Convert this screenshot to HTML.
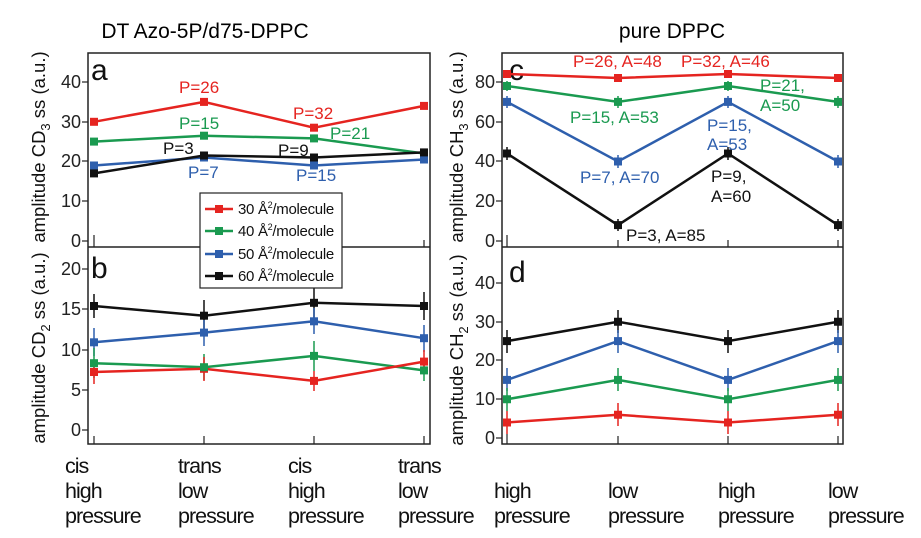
<!DOCTYPE html>
<html><head><meta charset="utf-8"><style>
body{margin:0;background:#fff}
svg{display:block;font-family:"Liberation Sans",sans-serif}
</style></head><body>
<svg width="921" height="538" viewBox="0 0 921 538">
<text x="205" y="38" font-size="21" text-anchor="middle">DT Azo-5P/d75-DPPC</text>
<text x="672" y="38" font-size="21" text-anchor="middle">pure DPPC</text>

<g fill="none" stroke="#222" stroke-width="1.5">
<rect x="88" y="53" width="342" height="391"/>
<line x1="88" y1="247" x2="430" y2="247"/>
<rect x="502" y="53" width="341" height="391"/>
<line x1="502" y1="247" x2="843" y2="247"/>
</g>
<g stroke="#222" stroke-width="1.2">
<line x1="82" y1="82" x2="88" y2="82"/><line x1="82" y1="122" x2="88" y2="122"/><line x1="82" y1="161" x2="88" y2="161"/><line x1="82" y1="201" x2="88" y2="201"/><line x1="82" y1="241" x2="88" y2="241"/>
<line x1="82" y1="269" x2="88" y2="269"/><line x1="82" y1="309" x2="88" y2="309"/><line x1="82" y1="350" x2="88" y2="350"/><line x1="82" y1="390" x2="88" y2="390"/><line x1="82" y1="430" x2="88" y2="430"/>
<line x1="496" y1="82" x2="502" y2="82"/><line x1="496" y1="122" x2="502" y2="122"/><line x1="496" y1="161" x2="502" y2="161"/><line x1="496" y1="201" x2="502" y2="201"/><line x1="496" y1="241" x2="502" y2="241"/>
<line x1="496" y1="283" x2="502" y2="283"/><line x1="496" y1="322" x2="502" y2="322"/><line x1="496" y1="360" x2="502" y2="360"/><line x1="496" y1="399" x2="502" y2="399"/><line x1="496" y1="438" x2="502" y2="438"/>
<line x1="94" y1="235" x2="94" y2="247"/><line x1="204" y1="240" x2="204" y2="247"/><line x1="314" y1="240" x2="314" y2="247"/><line x1="424" y1="240" x2="424" y2="247"/>
<line x1="94" y1="436" x2="94" y2="444"/><line x1="204" y1="436" x2="204" y2="444"/><line x1="314" y1="436" x2="314" y2="444"/><line x1="424" y1="436" x2="424" y2="444"/>
<line x1="507" y1="235" x2="507" y2="247"/><line x1="618" y1="240" x2="618" y2="247"/><line x1="728" y1="240" x2="728" y2="247"/><line x1="838" y1="240" x2="838" y2="247"/>
<line x1="507" y1="434" x2="507" y2="444"/><line x1="618" y1="436" x2="618" y2="444"/><line x1="728" y1="436" x2="728" y2="444"/><line x1="838" y1="436" x2="838" y2="444"/>
</g>
<g font-size="18" text-anchor="end" fill="#222">
<text x="81" y="88">40</text><text x="81" y="128">30</text><text x="81" y="167">20</text><text x="81" y="207">10</text><text x="81" y="247">0</text>
<text x="81" y="275">20</text><text x="81" y="315">15</text><text x="81" y="356">10</text><text x="81" y="396">5</text><text x="81" y="436">0</text>
<text x="495" y="88">80</text><text x="495" y="128">60</text><text x="495" y="167">40</text><text x="495" y="207">20</text><text x="495" y="247">0</text>
<text x="495" y="289">40</text><text x="495" y="328">30</text><text x="495" y="366">20</text><text x="495" y="405">10</text><text x="495" y="444">0</text>
</g>
<g font-size="30" fill="#111"><text x="91" y="80">a</text><text x="91" y="278">b</text><text x="509" y="80">c</text><text x="509" y="282">d</text></g>

<g font-size="18.5" text-anchor="middle" fill="#111">
<text transform="translate(45,147) rotate(-90)">amplitude CD<tspan font-size="13" dy="5">3</tspan><tspan dy="-5"> ss (a.u.)</tspan></text>
<text transform="translate(45,348) rotate(-90)">amplitude CD<tspan font-size="13" dy="5">2</tspan><tspan dy="-5"> ss (a.u.)</tspan></text>
<text transform="translate(463,147) rotate(-90)">amplitude CH<tspan font-size="13" dy="5">3</tspan><tspan dy="-5"> ss (a.u.)</tspan></text>
<text transform="translate(463,350) rotate(-90)">amplitude CH<tspan font-size="13" dy="5">2</tspan><tspan dy="-5"> ss (a.u.)</tspan></text>
</g>

<g stroke-width="2.5" fill="none">
<polyline stroke="#e52420" points="94,121.8 204,101.9 314,127.7 424,105.9"/>
<polyline stroke="#1a9a50" points="94,141.6 204,135.7 314,138.4 424,153.5"/>
<polyline stroke="#2e5fad" points="94,165.5 204,157.5 314,165.5 424,159.5"/>
<polyline stroke="#111" points="94,173.4 204,155.5 314,157.5 424,152.4"/>
</g>
<g>
<g fill="#e52420"><rect x="90" y="117.8" width="8" height="8"/><rect x="200" y="97.9" width="8" height="8"/><rect x="310" y="123.7" width="8" height="8"/><rect x="420" y="101.9" width="8" height="8"/></g>
<g fill="#1a9a50"><rect x="90" y="137.6" width="8" height="8"/><rect x="200" y="131.7" width="8" height="8"/><rect x="310" y="134.4" width="8" height="8"/><rect x="420" y="149.5" width="8" height="8"/></g>
<g fill="#2e5fad"><rect x="90" y="161.5" width="8" height="8"/><rect x="200" y="153.5" width="8" height="8"/><rect x="310" y="161.5" width="8" height="8"/><rect x="420" y="155.5" width="8" height="8"/></g>
<g fill="#111"><rect x="90" y="169.4" width="8" height="8"/><rect x="200" y="151.5" width="8" height="8"/><rect x="310" y="153.5" width="8" height="8"/><rect x="420" y="148.4" width="8" height="8"/></g>
</g>
<g font-size="17">
<text x="179" y="93" fill="#e52420">P=26</text><text x="293" y="119" fill="#e52420">P=32</text>
<text x="179" y="129" fill="#1a9a50">P=15</text><text x="330" y="139" fill="#1a9a50">P=21</text>
<text x="163" y="154" fill="#111">P=3</text><text x="278" y="156" fill="#111">P=9</text>
<text x="188" y="178" fill="#2e5fad">P=7</text><text x="296" y="181" fill="#2e5fad">P=15</text>
</g>

<g stroke-width="1.5">
<g stroke="#111"><line x1="94" y1="294" x2="94" y2="318"/><line x1="204" y1="300" x2="204" y2="331"/><line x1="314" y1="288" x2="314" y2="318"/><line x1="424" y1="292" x2="424" y2="320"/></g>
<g stroke="#2e5fad"><line x1="94" y1="328" x2="94" y2="356"/><line x1="204" y1="320" x2="204" y2="346"/><line x1="314" y1="308" x2="314" y2="334"/><line x1="424" y1="325" x2="424" y2="352"/></g>
<g stroke="#1a9a50"><line x1="94" y1="348" x2="94" y2="378"/><line x1="204" y1="354" x2="204" y2="380"/><line x1="314" y1="341" x2="314" y2="371"/><line x1="424" y1="360" x2="424" y2="381"/></g>
<g stroke="#e52420"><line x1="94" y1="360" x2="94" y2="384"/><line x1="204" y1="357" x2="204" y2="381"/><line x1="314" y1="371" x2="314" y2="391"/><line x1="424" y1="350" x2="424" y2="373"/></g>
</g>
<g stroke-width="2.5" fill="none">
<polyline stroke="#111" points="94,306 204,315.7 314,302.8 424,306"/>
<polyline stroke="#2e5fad" points="94,342.3 204,332.6 314,321.3 424,338.2"/>
<polyline stroke="#1a9a50" points="94,363.2 204,367.2 314,355.9 424,370.4"/>
<polyline stroke="#e52420" points="94,372 204,368.8 314,380.9 424,361.6"/>
</g>
<g fill="#e52420"><rect x="90" y="368" width="8" height="8"/><rect x="200" y="364.8" width="8" height="8"/><rect x="310" y="376.9" width="8" height="8"/><rect x="420" y="357.6" width="8" height="8"/></g>
<g fill="#1a9a50"><rect x="90" y="359.2" width="8" height="8"/><rect x="200" y="363.2" width="8" height="8"/><rect x="310" y="351.9" width="8" height="8"/><rect x="420" y="366.4" width="8" height="8"/></g>
<g fill="#2e5fad"><rect x="90" y="338.3" width="8" height="8"/><rect x="200" y="328.6" width="8" height="8"/><rect x="310" y="317.3" width="8" height="8"/><rect x="420" y="334.2" width="8" height="8"/></g>
<g fill="#111"><rect x="90" y="302" width="8" height="8"/><rect x="200" y="311.7" width="8" height="8"/><rect x="310" y="298.8" width="8" height="8"/><rect x="420" y="302" width="8" height="8"/></g>

<rect x="200" y="193" width="142" height="95" fill="#fff" stroke="#222" stroke-width="1.2"/>
<g stroke-width="2.5">
<line x1="205" y1="209" x2="233" y2="209" stroke="#e52420"/><rect x="215" y="205" width="8" height="8" fill="#e52420"/>
<line x1="205" y1="231" x2="233" y2="231" stroke="#1a9a50"/><rect x="215" y="227" width="8" height="8" fill="#1a9a50"/>
<line x1="205" y1="254" x2="233" y2="254" stroke="#2e5fad"/><rect x="215" y="250" width="8" height="8" fill="#2e5fad"/>
<line x1="205" y1="276" x2="233" y2="276" stroke="#111"/><rect x="215" y="272" width="8" height="8" fill="#111"/>
</g>
<g font-size="15" fill="#111" letter-spacing="-0.3">
<text x="238" y="214">30 Å<tspan font-size="9" dy="-6">2</tspan><tspan dy="6">/molecule</tspan></text>
<text x="238" y="236">40 Å<tspan font-size="9" dy="-6">2</tspan><tspan dy="6">/molecule</tspan></text>
<text x="238" y="259">50 Å<tspan font-size="9" dy="-6">2</tspan><tspan dy="6">/molecule</tspan></text>
<text x="238" y="281">60 Å<tspan font-size="9" dy="-6">2</tspan><tspan dy="6">/molecule</tspan></text>
</g>

<g stroke-width="1.5">
<g stroke="#1a9a50"><line x1="507" y1="81" x2="507" y2="91"/><line x1="618" y1="96" x2="618" y2="108"/><line x1="728" y1="81" x2="728" y2="91"/><line x1="838" y1="96" x2="838" y2="108"/></g>
<g stroke="#2e5fad"><line x1="507" y1="96" x2="507" y2="108"/><line x1="618" y1="155" x2="618" y2="168"/><line x1="728" y1="96" x2="728" y2="108"/><line x1="838" y1="155" x2="838" y2="168"/></g>
<g stroke="#111"><line x1="507" y1="147" x2="507" y2="160"/><line x1="618" y1="219" x2="618" y2="231"/><line x1="728" y1="147" x2="728" y2="160"/><line x1="838" y1="219" x2="838" y2="231"/></g>
</g>
<g stroke-width="2.5" fill="none">
<polyline stroke="#e52420" points="507,74 618,78 728,74 838,78"/>
<polyline stroke="#1a9a50" points="507,86 618,101.9 728,86 838,101.9"/>
<polyline stroke="#2e5fad" points="507,101.9 618,161.5 728,101.9 838,161.5"/>
<polyline stroke="#111" points="507,153.5 618,225.1 728,153.5 838,225.1"/>
</g>
<g fill="#e52420"><rect x="503" y="70" width="8" height="8"/><rect x="614" y="74" width="8" height="8"/><rect x="724" y="70" width="8" height="8"/><rect x="834" y="74" width="8" height="8"/></g>
<g fill="#1a9a50"><rect x="503" y="82" width="8" height="8"/><rect x="614" y="97.9" width="8" height="8"/><rect x="724" y="82" width="8" height="8"/><rect x="834" y="97.9" width="8" height="8"/></g>
<g fill="#2e5fad"><rect x="503" y="97.9" width="8" height="8"/><rect x="614" y="157.5" width="8" height="8"/><rect x="724" y="97.9" width="8" height="8"/><rect x="834" y="157.5" width="8" height="8"/></g>
<g fill="#111"><rect x="503" y="149.5" width="8" height="8"/><rect x="614" y="221.1" width="8" height="8"/><rect x="724" y="149.5" width="8" height="8"/><rect x="834" y="221.1" width="8" height="8"/></g>
<g font-size="17">
<text x="573" y="67" fill="#e52420">P=26, A=48</text><text x="681" y="67" fill="#e52420">P=32, A=46</text>
<text x="760" y="91" fill="#1a9a50">P=21,</text><text x="760" y="111" fill="#1a9a50">A=50</text>
<text x="570" y="123" fill="#1a9a50">P=15, A=53</text>
<text x="707" y="131" fill="#2e5fad">P=15,</text><text x="707" y="150" fill="#2e5fad">A=53</text>
<text x="580" y="183" fill="#2e5fad">P=7, A=70</text>
<text x="711" y="182" fill="#111">P=9,</text><text x="711" y="202" fill="#111">A=60</text>
<text x="626" y="241" fill="#111">P=3, A=85</text>
</g>

<g stroke-width="1.5">
<g stroke="#111"><line x1="507" y1="330" x2="507" y2="353"/><line x1="618" y1="310" x2="618" y2="333"/><line x1="728" y1="330" x2="728" y2="353"/><line x1="838" y1="310" x2="838" y2="333"/></g>
<g stroke="#2e5fad"><line x1="507" y1="368" x2="507" y2="391"/><line x1="618" y1="330" x2="618" y2="353"/><line x1="728" y1="368" x2="728" y2="391"/><line x1="838" y1="330" x2="838" y2="353"/></g>
<g stroke="#1a9a50"><line x1="507" y1="388" x2="507" y2="411"/><line x1="618" y1="368" x2="618" y2="391"/><line x1="728" y1="388" x2="728" y2="411"/><line x1="838" y1="368" x2="838" y2="391"/></g>
<g stroke="#e52420"><line x1="507" y1="411" x2="507" y2="434"/><line x1="618" y1="403" x2="618" y2="426"/><line x1="728" y1="411" x2="728" y2="434"/><line x1="838" y1="403" x2="838" y2="426"/></g>
</g>
<g stroke-width="2.5" fill="none">
<polyline stroke="#111" points="507,341.1 618,321.75 728,341.1 838,321.75"/>
<polyline stroke="#2e5fad" points="507,379.9 618,341.1 728,379.9 838,341.1"/>
<polyline stroke="#1a9a50" points="507,399.25 618,379.9 728,399.25 838,379.9"/>
<polyline stroke="#e52420" points="507,422.5 618,414.75 728,422.5 838,414.75"/>
</g>
<g fill="#111"><rect x="503" y="337.1" width="8" height="8"/><rect x="614" y="317.75" width="8" height="8"/><rect x="724" y="337.1" width="8" height="8"/><rect x="834" y="317.75" width="8" height="8"/></g>
<g fill="#2e5fad"><rect x="503" y="375.9" width="8" height="8"/><rect x="614" y="337.1" width="8" height="8"/><rect x="724" y="375.9" width="8" height="8"/><rect x="834" y="337.1" width="8" height="8"/></g>
<g fill="#1a9a50"><rect x="503" y="395.25" width="8" height="8"/><rect x="614" y="375.9" width="8" height="8"/><rect x="724" y="395.25" width="8" height="8"/><rect x="834" y="375.9" width="8" height="8"/></g>
<g fill="#e52420"><rect x="503" y="418.5" width="8" height="8"/><rect x="614" y="410.75" width="8" height="8"/><rect x="724" y="418.5" width="8" height="8"/><rect x="834" y="410.75" width="8" height="8"/></g>

<g font-size="21.5" fill="#111" letter-spacing="-1">
<text x="65" y="473">cis</text><text x="65" y="498">high</text><text x="65" y="523">pressure</text>
<text x="178" y="473">trans</text><text x="178" y="498">low</text><text x="178" y="523">pressure</text>
<text x="288" y="473">cis</text><text x="288" y="498">high</text><text x="288" y="523">pressure</text>
<text x="398" y="473">trans</text><text x="398" y="498">low</text><text x="398" y="523">pressure</text>
<text x="494" y="498">high</text><text x="494" y="523">pressure</text>
<text x="608" y="498">low</text><text x="608" y="523">pressure</text>
<text x="718" y="498">high</text><text x="718" y="523">pressure</text>
<text x="828" y="498">low</text><text x="828" y="523">pressure</text>
</g>
</svg>
</body></html>
